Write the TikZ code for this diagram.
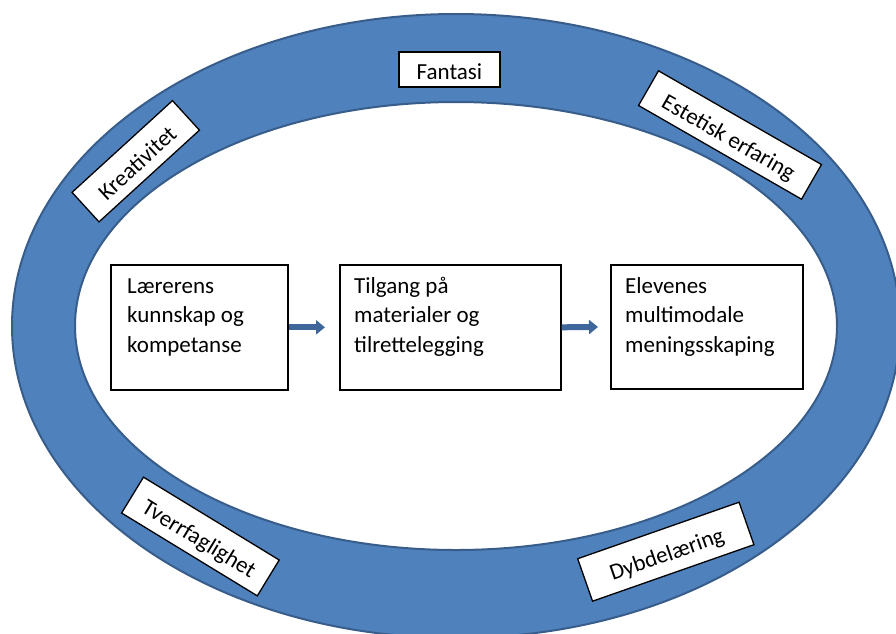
\documentclass[tikz,border=0pt]{standalone}
\usepackage{fontspec}
\setmainfont{Carlito}
\usetikzlibrary{arrows.meta}
\definecolor{ringfill}{RGB}{79,129,189}
\definecolor{ringedge}{RGB}{56,93,138}
\definecolor{arrowblue}{RGB}{62,102,154}
\tikzset{
  mainbox/.style={draw=black, line width=1.6pt, fill=white, anchor=north west, inner sep=0pt, minimum height=125pt},
  boxtext/.style={anchor=base west, inner sep=0pt, font=\fontsize{23}{29.5}\selectfont},
  tag/.style={draw=black, line width=1.3pt, fill=white, inner sep=0pt, text height=20pt, text depth=0pt, font=\fontsize{23}{28}\selectfont},
  flow/.style={draw=arrowblue, line width=6pt, -{Triangle[length=9pt,width=14pt]}},
  ringline/.style={draw=ringedge, line width=2pt}
}
\begin{document}
\begin{tikzpicture}[x=1pt,y=-1pt]
\useasboundingbox (0,0) rectangle (896,633);
\fill[white] (0,0) rectangle (896,633);
\begin{scope}
  \clip (0,0) rectangle (896,633);
  \coordinate (c) at (456,326);
  \path[fill=ringfill, even odd rule] (c) ellipse [x radius=444, y radius=312] (c) ellipse [x radius=381, y radius=224];
  \draw[ringline] (c) ellipse [x radius=444, y radius=312];
  \draw[ringline] (c) ellipse [x radius=381, y radius=224];
\end{scope}

\node[tag, minimum width=101pt, minimum height=35pt] (fantasi) at (449.5,69.5) {Fantasi};
\node[tag, minimum width=136pt, minimum height=40pt, rotate=42.4] (krea) at (135.75,161.25) {Kreativitet};
\node[tag, minimum width=188pt, minimum height=40pt, rotate=-29.9] (este) at (730,135) {Estetisk erfaring};
\node[tag, minimum width=159pt, minimum height=42pt, rotate=-31.4] (tverr) at (200.4,536.5) {Tverrfaglighet};
\node[tag, minimum width=171pt, minimum height=45pt, rotate=19.3] (dybde) at (665.8,551.7) {Dybdelæring};

\node[mainbox, minimum width=177pt] (b1) at (110,264) {};
\node[mainbox, minimum width=221pt] (b2) at (339,264) {};
\node[mainbox, minimum width=192pt, minimum height=124pt] (b3) at (610,264) {};

\node[boxtext] (t1) at ([xshift=17pt, yshift=-29pt]b1.north west) {\parbox[t]{160pt}{\raggedright Lærerens\\kunnskap og\\kompetanse}};
\node[boxtext] (t2) at ([xshift=15pt, yshift=-29pt]b2.north west) {\parbox[t]{200pt}{\raggedright Tilgang på\\materialer og\\tilrettelegging}};
\node[boxtext] (t3) at ([xshift=15pt, yshift=-29pt]b3.north west) {\parbox[t]{175pt}{\raggedright Elevenes\\multimodale\\meningsskaping}};

\draw[flow, shorten >=14pt] (b1.east) -- (b2.west);
\draw[flow, shorten >=12pt] (b2.east) -- (b3.west);
\end{tikzpicture}
\end{document}
